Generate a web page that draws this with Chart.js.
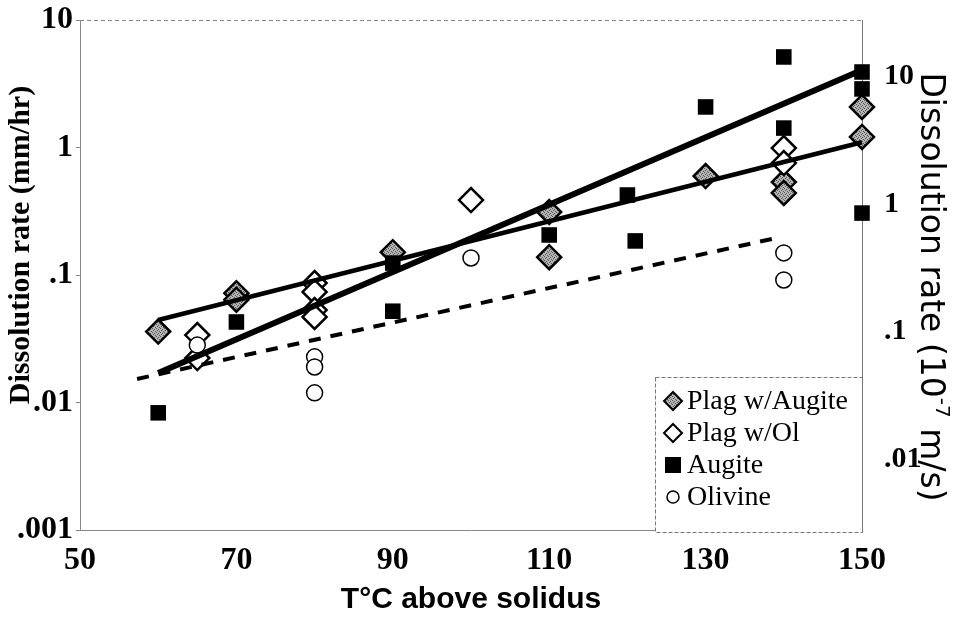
<!DOCTYPE html>
<html>
<head>
<meta charset="utf-8">
<script src="https://cdn.jsdelivr.net/npm/chart.js@4.4.1/dist/chart.umd.min.js"></script>
<style>
  html, body { margin: 0; padding: 0; background: #fff; }
  #wrap { width: 953px; height: 627px; position: relative; }
</style>
</head>
<body>
<div id="wrap"><canvas id="dissolutionChart" width="953" height="627"></canvas></div>
<script>
const plagAugX = [60, 70, 70, 90, 110, 110, 130, 140, 140, 150, 150];
const plagAugY = [0.036, 0.072, 0.064, 0.151, 0.312, 0.138, 0.597, 0.536, 0.44, 2.08, 1.21];
const plagOlX = [65, 65, 80, 80, 80, 80, 100, 140, 140];
const plagOlY = [0.0338, 0.0223, 0.0865, 0.0736, 0.0531, 0.0469, 0.387, 0.99, 0.755];
const augiteX = [60, 70, 90, 90, 110, 120, 121, 130, 140, 140, 150, 150, 150];
const augiteY = [0.0083, 0.0428, 0.124, 0.052, 0.206, 0.424, 0.185, 2.08, 5.13, 1.42, 3.91, 2.88, 0.306];
const olivineX = [65, 80, 80, 80, 100, 140, 140];
const olivineY = [0.0282, 0.0228, 0.019, 0.0119, 0.136, 0.149, 0.0914];

// Fit lines (end points)
const plagFitX = [60, 150];
const plagFitY = [0.0444, 1.10];
const augFitX = [60, 150];
const augFitY = [0.017, 4.05];
const olFitX = [57.3, 139];
const olFitY = [0.0153, 0.195];

// Axis ticks
const xTicks = [50, 70, 90, 110, 130, 150];
const leftTicks = [0.001, 0.01, 0.1, 1, 10];
const rightTicks = [0.01, 0.1, 1, 10];
const msFactor = 2.78; // 1 mm/hr = 2.78e-7 m/s

const legendNames = ['Plag w/Augite', 'Plag w/Ol', 'Augite', 'Olivine'];

function pts(xs, ys) {
    return xs.map((x, i) => ({ x: x, y: ys[i] }));
}

function fmtLog(v) {
    return String(v).replace(/^0/, '');
}

// gray speckled fill used for the Plag w/Augite diamonds
function makeHatch() {
    const c = document.createElement('canvas');
    c.width = 4;
    c.height = 4;
    const g = c.getContext('2d');
    g.fillStyle = '#b4b4b4';
    g.fillRect(0, 0, 4, 4);
    g.fillStyle = '#555';
    g.fillRect(0, 0, 1, 1);
    g.fillRect(2, 1, 1, 1);
    g.fillRect(1, 2, 1, 1);
    g.fillRect(3, 3, 1, 1);
    return g.createPattern(c, 'repeat');
}
const hatch = makeHatch();

const serifBold = { family: 'Liberation Serif', weight: 'bold', size: 32 };

function noOverflow(scale) {
    scale.paddingTop = 0;
    scale.paddingBottom = 0;
    scale.paddingLeft = 0;
    scale.paddingRight = 0;
}

function drawMarker(ctx, kind, x, y) {
    ctx.save();
    ctx.lineWidth = 2;
    ctx.strokeStyle = '#000';
    ctx.beginPath();
    if (kind === 0 || kind === 1) {
        const r = 9;
        ctx.moveTo(x, y - r);
        ctx.lineTo(x + r, y);
        ctx.lineTo(x, y + r);
        ctx.lineTo(x - r, y);
        ctx.closePath();
        ctx.fillStyle = kind === 0 ? hatch : '#fff';
        ctx.fill();
        ctx.stroke();
    } else if (kind === 2) {
        ctx.fillStyle = '#000';
        ctx.fillRect(x - 8, y - 8, 16, 16);
    } else {
        ctx.lineWidth = 1.5;
        ctx.arc(x, y, 6, 0, Math.PI * 2);
        ctx.fillStyle = '#fff';
        ctx.fill();
        ctx.stroke();
    }
    ctx.restore();
}

const decorPlugin = {
    id: 'decor',
    afterDraw(chart) {
        const ctx = chart.ctx;
        const area = chart.chartArea;
        ctx.save();

        // top frame line
        ctx.strokeStyle = '#888';
        ctx.lineWidth = 1;
        ctx.setLineDash([4, 3]);
        ctx.beginPath();
        ctx.moveTo(area.left, area.top + 0.5);
        ctx.lineTo(area.right, area.top + 0.5);
        ctx.stroke();
        ctx.setLineDash([]);

        // left axis title
        ctx.fillStyle = '#000';
        ctx.save();
        ctx.translate(21, 245);
        ctx.rotate(-Math.PI / 2);
        ctx.font = 'bold 30px "Liberation Serif"';
        ctx.textAlign = 'center';
        ctx.textBaseline = 'middle';
        ctx.fillText('Dissolution rate (mm/hr)', 0, 0);
        ctx.restore();

        // right axis title with superscript
        ctx.save();
        ctx.translate(933, 287);
        ctx.rotate(Math.PI / 2);
        ctx.textBaseline = 'alphabetic';
        const mainFont = '33px "DejaVu Sans"';
        const supFont = '20px "DejaVu Sans"';
        const p1 = 'Dissolution rate (10';
        const p2 = '-7';
        const p3 = ' m/s)';
        ctx.font = mainFont;
        const w1 = ctx.measureText(p1).width;
        const w3 = ctx.measureText(p3).width;
        ctx.font = supFont;
        const w2 = ctx.measureText(p2).width;
        let sx = -(w1 + w2 + w3) / 2;
        ctx.font = mainFont;
        ctx.fillText(p1, sx, 12);
        ctx.font = supFont;
        ctx.fillText(p2, sx + w1, -3);
        ctx.font = mainFont;
        ctx.fillText(p3, sx + w1 + w2, 12);
        ctx.restore();

        // x axis title
        ctx.font = 'bold 30px "Liberation Sans Narrow", "Liberation Sans"';
        ctx.textAlign = 'center';
        ctx.textBaseline = 'middle';
        ctx.fillText('T\u00B0C above solidus', 471, 600);

        // legend box
        const lx = 655, ly = 377, lw = area.right - 655, lh = 155;
        ctx.fillStyle = '#fff';
        ctx.fillRect(lx, ly, lw, lh);
        ctx.strokeStyle = '#777';
        ctx.lineWidth = 1;
        ctx.setLineDash([4, 2]);
        ctx.strokeRect(lx + 0.5, ly + 0.5, lw, lh);
        ctx.setLineDash([]);
        ctx.font = '28px "Liberation Serif"';
        ctx.textAlign = 'left';
        ctx.textBaseline = 'middle';
        legendNames.forEach((name, i) => {
            const yy = ly + 24 + i * 32;
            drawMarker(ctx, i, 673, yy);
            ctx.fillStyle = '#000';
            ctx.fillText(name, 687, yy + 1);
        });
        ctx.restore();
    }
};

const ctx = document.getElementById('dissolutionChart');
new Chart(ctx, {
    data: {
        datasets: [
            {
                type: 'line', label: 'Augite fit', data: pts(augFitX, augFitY),
                borderColor: '#000', borderWidth: 6, pointRadius: 0, order: 1, clip: false
            },
            {
                type: 'line', label: 'Plag fit', data: pts(plagFitX, plagFitY),
                borderColor: '#000', borderWidth: 4.5, pointRadius: 0, order: 1, clip: false
            },
            {
                type: 'line', label: 'Olivine fit', data: pts(olFitX, olFitY),
                borderColor: '#000', borderWidth: 4, borderDash: [12, 10], pointRadius: 0, order: 1, clip: false
            },
            {
                type: 'scatter', label: legendNames[3], data: pts(olivineX, olivineY),
                pointStyle: 'circle', pointRadius: 8, backgroundColor: '#fff',
                borderColor: '#000', borderWidth: 1.5, order: 2, clip: false
            },
            {
                type: 'scatter', label: legendNames[2], data: pts(augiteX, augiteY),
                pointStyle: 'rect', pointRadius: 11, backgroundColor: '#000',
                borderColor: '#000', borderWidth: 0, order: 2, clip: false
            },
            {
                type: 'scatter', label: legendNames[1], data: pts(plagOlX, plagOlY),
                pointStyle: 'rectRot', pointRadius: 12, backgroundColor: '#fff',
                borderColor: '#000', borderWidth: 2.5, order: 2, clip: false
            },
            {
                type: 'scatter', label: legendNames[0], data: pts(plagAugX, plagAugY),
                pointStyle: 'rectRot', pointRadius: 12, backgroundColor: hatch,
                borderColor: '#000', borderWidth: 2.5, order: 2, clip: false
            }
        ]
    },
    options: {
        responsive: false,
        animation: false,
        layout: { padding: { top: 20 } },
        plugins: {
            legend: { display: false },
            tooltip: { enabled: false }
        },
        scales: {
            x: {
                type: 'linear',
                min: 50,
                max: 150,
                afterBuildTicks: function(scale) {
                    scale.ticks = xTicks.map(v => ({ value: v }));
                },
                afterFit: function(scale) { scale.height = 97; noOverflow(scale); },
                ticks: { font: serifBold, color: '#000', padding: 4, maxRotation: 0 },
                grid: { display: false },
                border: { display: true, color: '#888', width: 1, dash: [2, 3] }
            },
            y: {
                type: 'logarithmic',
                position: 'left',
                min: 0.001,
                max: 10,
                afterBuildTicks: function(scale) {
                    scale.ticks = leftTicks.map(v => ({ value: v }));
                },
                afterFit: function(scale) { scale.width = 80; noOverflow(scale); },
                ticks: { font: serifBold, color: '#000', padding: 3, callback: v => fmtLog(v) },
                grid: { drawOnChartArea: false, tickLength: 4, color: '#888' },
                border: { display: true, color: '#888', width: 1, dash: [4, 3] }
            },
            y2: {
                type: 'logarithmic',
                position: 'right',
                min: 0.001 * msFactor,
                max: 10 * msFactor,
                afterBuildTicks: function(scale) {
                    scale.ticks = rightTicks.map(v => ({ value: v }));
                },
                afterFit: function(scale) { scale.width = 91; noOverflow(scale); },
                ticks: { font: { family: 'Liberation Serif', weight: 'bold', size: 30 }, color: '#000', padding: 14, callback: v => fmtLog(v) },
                grid: { display: false },
                border: { display: true, color: '#777', width: 1, dash: [3, 4] }
            }
        }
    },
    plugins: [decorPlugin]
});
</script>
</body>
</html>
